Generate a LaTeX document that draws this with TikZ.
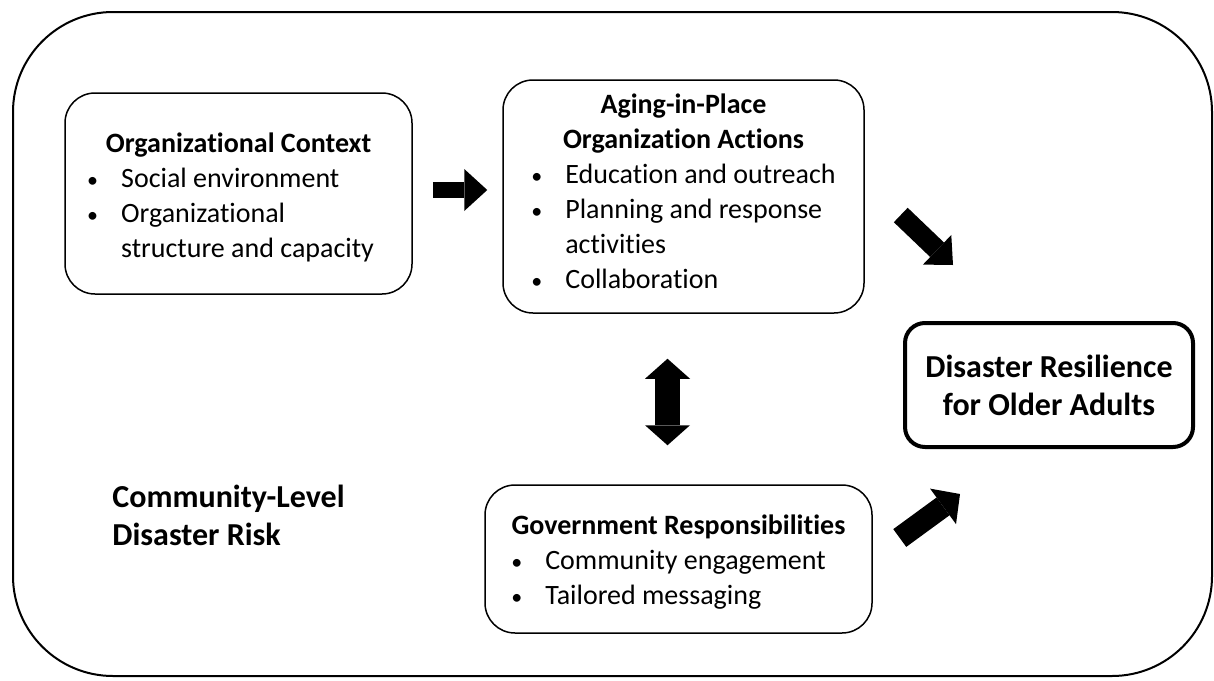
\documentclass[tikz,border=0pt]{standalone}
\usepackage{fontspec}
\setmainfont{Carlito}[Ligatures=NoCommon]
\usetikzlibrary{arrows.meta}
\usetikzlibrary{positioning}
\newcommand{\bulletlist}[1]{\begin{tabular}[t]{@{}l@{}l@{}}#1\end{tabular}}
\newcommand{\bul}{\makebox[17pt][l]{\fontsize{11}{11}\selectfont\textbullet}}
\tikzset{
    textsize/.style={font=\fontsize{14}{17.5}\selectfont},
    orgbox/.style={draw, rounded corners=15pt, line width=0.75pt, align=center, inner sep=0pt, textsize},
    fatarrow/.style n args={3}{line width=#1, -{Triangle[width=#2, length=#3, line width=0pt]}},
    twoheads/.style n args={3}{line width=#1, {Triangle[width=#2, length=#3, line width=0pt]}-{Triangle[width=#2, length=#3, line width=0pt]}},
}

\begin{document}
\begin{tikzpicture}[x=0.5pt,y=-0.5pt]
\useasboundingbox (0,0) rectangle (1214,680);
% outer frame
\draw[line width=1pt, rounded corners=50pt] (13,12) rectangle (1212,676);

\node[orgbox, minimum width=173.5pt, minimum height=100.5pt] (context) at (238.5,193.5)
    {\rule{0pt}{17pt}{\bfseries Organizational Context}\\
     \hspace*{-8pt}\bulletlist{\bul & Social environment\\ \bul & Organizational\\ & structure and capacity}};
\node[orgbox, minimum width=180.5pt, minimum height=116.5pt] (aip) at (683.5,196.5)
    {{\bfseries Aging-in-Place}\\{\bfseries Organization Actions}\\
     \bulletlist{\bul & Education and outreach\\ \bul & Planning and response\\ & activities\\ \bul & Collaboration}};
\node[orgbox, minimum width=193.5pt, minimum height=74pt] (gov) at (678.5,559)
    {\rule{0pt}{16pt}{\bfseries Government Responsibilities}\\
     \hspace*{-10pt}\bulletlist{\bul & Community engagement\\ \bul & Tailored messaging}};
\node[draw, rounded corners=10pt, line width=2pt, align=center, inner sep=0pt,
      minimum width=144pt, minimum height=62pt, font=\fontsize{16}{19}\selectfont\bfseries] (res) at (1049,385)
    {Disaster Resilience\\for Older Adults};
\node[anchor=west, align=left, inner sep=0pt, font=\fontsize{16}{19}\selectfont\bfseries] (risk) at (112,515)
    {Community-Level\\Disaster Risk};

% block arrows
\draw[fatarrow={8pt}{21pt}{11.5pt}] ([shift={(20,-3.5)}]context.east) -- ([shift={(-15,-6.5)}]aip.west);
\draw[twoheads={12.5pt}{22.5pt}{10pt}] ([shift={(-16,45)}]aip.south) -- ([shift={(-11,-39)}]gov.north);
\draw[fatarrow={10pt}{20.5pt}{11pt}] ([shift={(36,18.5)}]aip.east) -- ([shift={(50,-56)}]res.north west);
\draw[fatarrow={11pt}{22pt}{10.5pt}] ([shift={(27,-21)}]gov.east) -- ([shift={(57,45)}]res.south west);
\end{tikzpicture}
\end{document}
